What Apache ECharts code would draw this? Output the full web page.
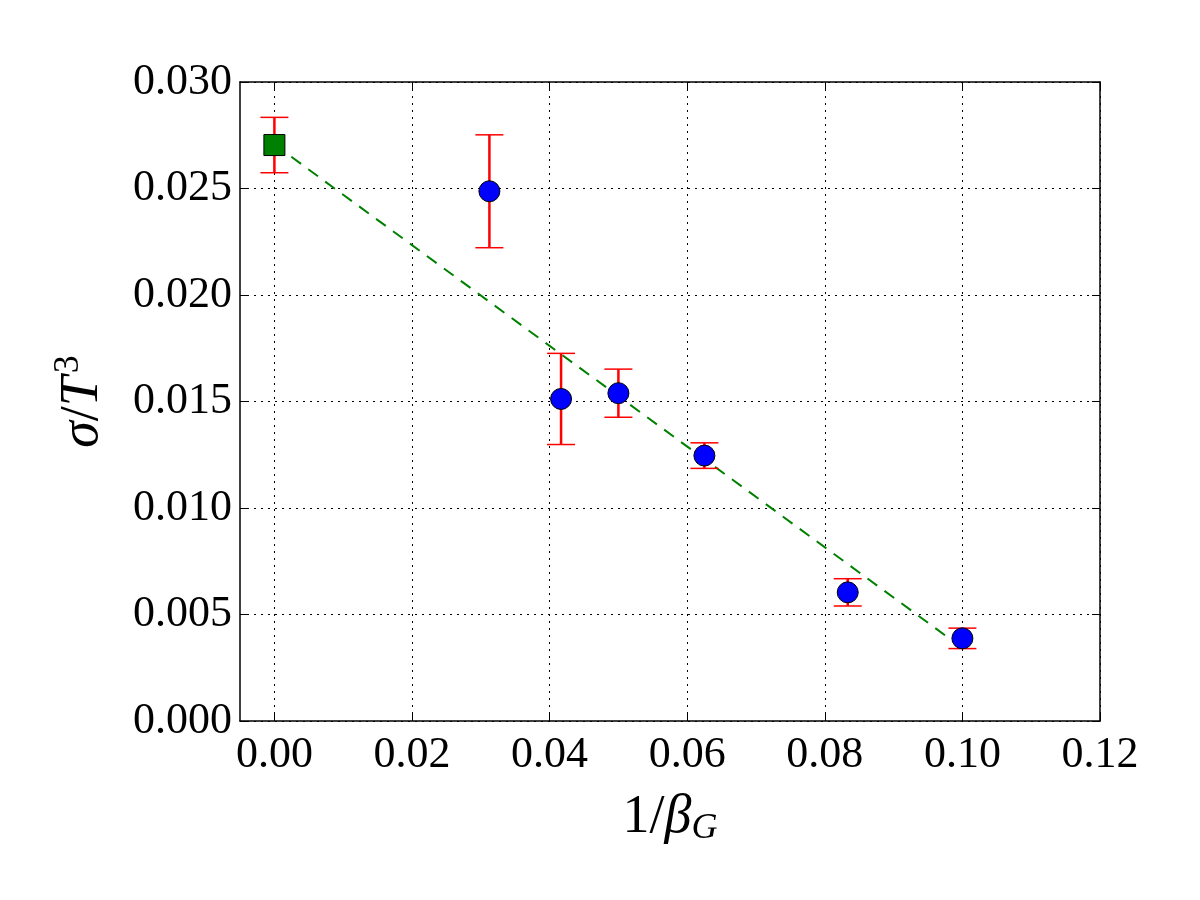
<!DOCTYPE html>
<html>
<head>
<meta charset="utf-8">
<script src="https://cdn.jsdelivr.net/npm/echarts@6/dist/echarts.min.js"></script>
<style>
  html, body { margin: 0; padding: 0; background: #fff; }
  #chart { width: 1200px; height: 900px; }
</style>
</head>
<body>
<div id="chart"></div>
<script>
// lattice points (1/beta_G, sigma/T^3) with their errors
const invBeta = [0.03125, 0.041667, 0.05, 0.0625, 0.083333, 0.1]
const sigma = [0.02487, 0.01512, 0.01539, 0.01246, 0.00604, 0.00388]
const sigmaErr = [0.00265, 0.00214, 0.00113, 0.0006, 0.00064, 0.00048]

// continuum extrapolation
const contX = [0]
const contY = [0.02704]
const contErr = [0.0013]

// linear fit
const fitX = [0, 0.1]
const fitY = [0.02707, 0.00343]

const xTickValues = [0, 0.02, 0.04, 0.06, 0.08, 0.1, 0.12]
const xTicks = ['0.00', '0.02', '0.04', '0.06', '0.08', '0.10', '0.12']

const FONT = '"Liberation Serif", "DejaVu Serif", serif'

let chart = echarts.init(document.getElementById('chart'))

let errRows = invBeta.map((x, i) => [x, sigma[i] - sigmaErr[i], sigma[i] + sigmaErr[i]])
  .concat(contX.map((x, i) => [x, contY[i] - contErr[i], contY[i] + contErr[i]]))

let renderErr = (params, api) => {
  let lo = api.coord([api.value(0), api.value(1)])
  let hi = api.coord([api.value(0), api.value(2)])
  let cap = 14
  let st = { stroke: '#ff0000', lineWidth: 1.5 }
  return {
    type: 'group',
    children: [
      { type: 'line', shape: { x1: lo[0], y1: lo[1], x2: hi[0], y2: hi[1] }, style: { stroke: '#ff0000', lineWidth: 2.5 } },
      { type: 'line', shape: { x1: lo[0] - cap, y1: lo[1], x2: lo[0] + cap, y2: lo[1] }, style: st },
      { type: 'line', shape: { x1: hi[0] - cap, y1: hi[1], x2: hi[0] + cap, y2: hi[1] }, style: st }
    ]
  }
}

let tickStyle = { inside: true, length: 8, lineStyle: { color: '#000', width: 1 } }
let gridLine = { show: true, lineStyle: { color: '#000', width: 1, type: [2, 5] } }
let boxLine = { show: true, onZero: false, lineStyle: { color: '#000', width: 1.5 } }

let opts = {
  animation: false,
  backgroundColor: '#fff',
  grid: { left: 240, right: 100, top: 82, bottom: 179, containLabel: false },
  xAxis: [
    {
      type: 'value', min: -0.005, max: 0.12,
      name: '{m|1/}{i|β}{sub|G}',
      nameLocation: 'middle', nameGap: 68,
      nameTextStyle: {
        rich: {
          m: { fontFamily: FONT, fontSize: 54, color: '#000' },
          i: { fontFamily: FONT, fontSize: 54, fontStyle: 'italic', color: '#000' },
          sub: { fontFamily: FONT, fontSize: 36, fontStyle: 'italic', color: '#000', verticalAlign: 'bottom', padding: [22, 0, 0, 0] }
        }
      },
      axisLine: boxLine,
      axisTick: Object.assign({ customValues: xTickValues }, tickStyle),
      axisLabel: {
        fontFamily: FONT, fontSize: 44, color: '#000', margin: 12,
        customValues: xTickValues,
        formatter: (v) => xTicks[Math.round(v / 0.02)] || ''
      },
      splitLine: gridLine
    },
    {
      type: 'value', position: 'top', min: -0.005, max: 0.12,
      axisLine: boxLine,
      axisTick: Object.assign({ customValues: xTickValues }, tickStyle),
      axisLabel: { show: false, customValues: xTickValues },
      splitLine: { show: false }
    }
  ],
  yAxis: [
    {
      type: 'value', min: 0, max: 0.03, interval: 0.005,
      name: '{i|σ}{m|/}{i|T}{sup|3}',
      nameLocation: 'middle', nameGap: 125, nameRotate: 90,
      nameTextStyle: {
        rich: {
          m: { fontFamily: FONT, fontSize: 54, color: '#000' },
          i: { fontFamily: FONT, fontSize: 54, fontStyle: 'italic', color: '#000' },
          sup: { fontFamily: FONT, fontSize: 36, color: '#000', verticalAlign: 'top', padding: [0, 0, 28, 3] }
        }
      },
      axisLine: boxLine,
      axisTick: tickStyle,
      axisLabel: {
        fontFamily: FONT, fontSize: 44, color: '#000', margin: 8,
        formatter: (v) => v.toFixed(3)
      },
      splitLine: gridLine
    },
    {
      type: 'value', position: 'right', min: 0, max: 0.03, interval: 0.005,
      axisLine: boxLine,
      axisTick: tickStyle,
      axisLabel: { show: false },
      splitLine: { show: false }
    }
  ],
  series: [
    {
      type: 'line',
      data: fitX.map((x, i) => [x, fitY[i]]),
      symbol: 'none',
      lineStyle: { color: '#008000', width: 2, type: [12, 9] },
      z: 2
    },
    {
      type: 'custom',
      data: errRows,
      renderItem: renderErr,
      encode: { x: 0, y: [1, 2] },
      z: 3
    },
    {
      type: 'scatter',
      data: invBeta.map((x, i) => [x, sigma[i]]),
      symbol: 'circle',
      symbolSize: 21,
      itemStyle: { color: '#0000ff', borderColor: '#000', borderWidth: 1, opacity: 1 },
      z: 4
    },
    {
      type: 'scatter',
      data: contX.map((x, i) => [x, contY[i]]),
      symbol: 'rect',
      symbolSize: 21,
      itemStyle: { color: '#008000', borderColor: '#000', borderWidth: 1, opacity: 1 },
      z: 4
    }
  ]
}

chart.setOption(opts)
</script>
</body>
</html>
